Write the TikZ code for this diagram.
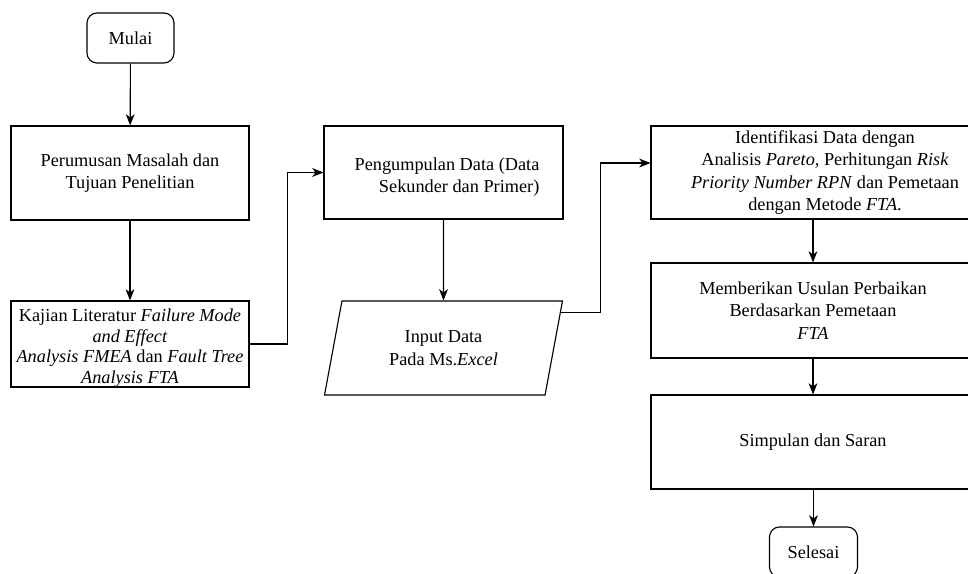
\documentclass[tikz,border=0pt]{standalone}
\usepackage{fontspec}
\setmainfont{Liberation Serif}
\usetikzlibrary{calc, shapes.geometric, positioning, arrows.meta}
\newcommand{\pxu}{0.025cm}% one pixel of the sketch

\begin{document}
\begin{tikzpicture}[x=0.025cm, y=-0.025cm, line width=0.8pt,
  font=\fontsize{13}{16}\selectfont,
  proses/.style={draw, align=center, inner sep=0pt},
  terminal/.style={draw, rounded corners=2.5mm, minimum width=87*\pxu, minimum height=50*\pxu},
  io/.style={draw, trapezium, trapezium left angle=75, trapezium right angle=105,
    trapezium stretches=true, align=center, inner sep=0pt},
  panah/.style={-{Stealth[length=2.8mm, width=2.2mm, inset=0.8mm]}}]
\useasboundingbox (0,0) rectangle (968,573);
% kolom kiri
\node[terminal] (mulai) at (130.5,38) {Mulai};
\node[proses, minimum width=238*\pxu, minimum height=94*\pxu] (rumus) at (130,173)
  {Perumusan Masalah dan\\Tujuan Penelitian};
\node[proses, minimum width=238*\pxu, minimum height=86*\pxu] (kajian) at (130,344) {};
\node[align=center, inner sep=0pt, font=\fontsize{13}{14.6}\selectfont] (kajianteks) at (130,348)
  {Kajian Literatur \textit{Failure Mode}\\\textit{and Effect}\\
   \textit{Analysis FMEA} dan \textit{Fault Tree}\\\textit{Analysis FTA}};
% kolom tengah
\node[proses, minimum width=239*\pxu, minimum height=93*\pxu] (kumpul) at (443.5,172.5) {};
\node[align=right, inner sep=0pt] (kumpulteks) at (447,177)
  {Pengumpulan Data (Data\\Sekunder dan Primer)};
\node[io, minimum width=239*\pxu, minimum height=94*\pxu] (input) at (443.5,348)
  {Input Data\\Pada Ms.\textit{Excel}};
% kolom kanan
\node[proses, minimum width=348*\pxu, minimum height=93*\pxu] (ident) at (825,172.5)
  {Identifikasi Data dengan\\Analisis \textit{Pareto}, Perhitungan \textit{Risk}\\
   \textit{Priority Number RPN} dan Pemetaan\\dengan Metode \textit{FTA}.};
\node[proses, minimum width=324*\pxu, minimum height=95*\pxu] (usulan) at (813,310.5)
  {Memberikan Usulan Perbaikan\\Berdasarkan Pemetaan\\\textit{FTA}};
\node[proses, minimum width=324*\pxu, minimum height=94*\pxu] (simpul) at (813,442)
  {Simpulan dan Saran};
\node[terminal, minimum width=88*\pxu] (selesai) at (813.5,552) {Selesai};
% panah
\draw[panah] (mulai) -- (rumus);
\draw[panah] (rumus) -- (kajian);
\draw[panah] (kajian.east) -- ++(38,0) |- (kumpul.west);
\draw[panah] (kumpul) -- (input);
\draw[panah] ($(input.top right corner)!0.13!(input.bottom right corner)$) -- ++(40,0)
  |- ($(ident.west)+(0,-9.5)$);
\draw[panah] (ident.south -| usulan.north) -- (usulan.north);
\draw[panah] (usulan) -- (simpul);
\draw[panah] (simpul.south -| selesai.north) -- (selesai.north);
\end{tikzpicture}
\end{document}
